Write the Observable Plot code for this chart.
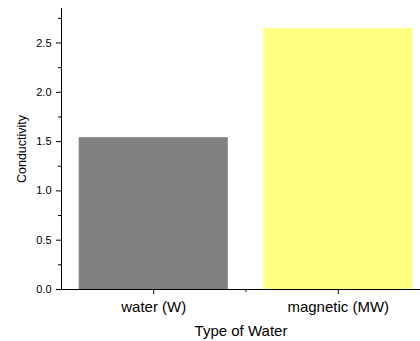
<!DOCTYPE html>
<html><head><meta charset="utf-8">
<script src="https://cdn.jsdelivr.net/npm/d3@7"></script>
<script src="https://cdn.jsdelivr.net/npm/@observablehq/plot@0.6"></script>
<style>body{margin:0;background:#fff}</style>
</head><body><div id="chart"></div>
<script>
const categories = ["water (W)", "magnetic (MW)"];
const conductivity = [1.54, 2.645];
const barColors = ["#808080", "#FFFF80"];
const yTicks = [0, 0.5, 1, 1.5, 2, 2.5];
const yMinorTicks = [0.25, 0.75, 1.25, 1.75, 2.25, 2.75];
const xMinorTicks = [1.5];
const yMax = 2.85;
const xLabel = "Type of Water";
const yLabel = "Conductivity";
const barHalf = 0.404;

const data = categories.map((c, i) => ({pos: i + 1, category: c, value: conductivity[i], color: barColors[i]}));

const chart = Plot.plot({
  width: 420, height: 341,
  marginLeft: 61, marginRight: 0, marginTop: 8, marginBottom: 52,
  style: {fontFamily: "'Liberation Sans', Arial, sans-serif", color: "#000", background: "#fff"},
  x: {type: "linear", domain: [0.5, 2.5], range: [61, 430]},
  y: {domain: [0, yMax]},
  marks: [
    Plot.rectY(data, {x1: d => d.pos - barHalf, x2: d => d.pos + barHalf, y: "value", fill: "color"}),
    Plot.ruleY([0], {stroke: "#000", strokeWidth: 1}),
    Plot.ruleX([0.5], {y1: 0, y2: yMax, stroke: "#000", strokeWidth: 1}),
    Plot.axisY({ticks: yTicks, tickFormat: d3.format(".1f"), tickSize: 5, tickPadding: 5, fontSize: 11, label: null}),
    Plot.axisY({ticks: yMinorTicks, tickFormat: () => "", tickSize: 3, label: null}),
    Plot.axisY({ticks: yTicks, tickFormat: () => "", tickSize: 0, fontSize: 12.5,
      label: yLabel, labelAnchor: "center", labelOffset: 44, labelArrow: "none"}),
    Plot.axisX({ticks: [1, 2], tickFormat: d => categories[d - 1], tickSize: 5, tickPadding: 7, fontSize: 15, label: null}),
    Plot.axisX({ticks: xMinorTicks, tickFormat: () => "", tickSize: 3, label: null}),
    Plot.axisX({ticks: [1, 2], tickFormat: () => "", tickSize: 0, fontSize: 15,
      label: xLabel, labelAnchor: "center", labelOffset: 46, labelArrow: "none"})
  ]
});
document.getElementById("chart").appendChild(chart);
</script>
</body></html>
